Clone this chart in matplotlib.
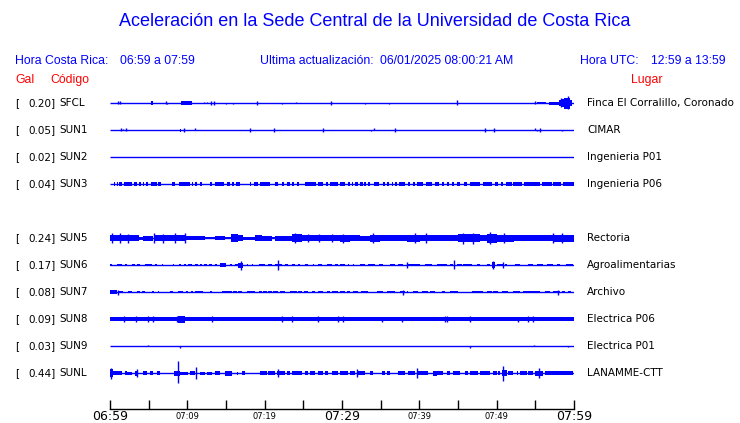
import matplotlib
matplotlib.use("Agg")
import matplotlib.pyplot as plt
from matplotlib.ticker import FixedLocator, FixedFormatter

# ---------------- data ----------------
TITLE = "Aceleración en la Sede Central de la Universidad de Costa Rica"
HORA_CR = "06:59 a 07:59"
ACTUALIZACION = "06/01/2025 08:00:21 AM"
HORA_UTC = "12:59 a 13:59"

# stations in display order (SUN4 has no data -> empty row)
CODES = ["SFCL", "SUN1", "SUN2", "SUN3", "SUN4", "SUN5", "SUN6", "SUN7", "SUN8", "SUN9", "SUNL"]
GAL = [0.20, 0.05, 0.02, 0.04, None, 0.24, 0.17, 0.08, 0.09, 0.03, 0.44]
PLACES = ["Finca El Corralillo, Coronado", "CIMAR", "Ingenieria P01", "Ingenieria P06", None,
          "Rectoria", "Agroalimentarias", "Archivo", "Electrica P06", "Electrica P01", "LANAMME-CTT"]

# time axis (minutes after 06:59)
TICK_MAJOR = [0, 30, 60]
TICK_MAJOR_LABELS = ["06:59", "07:29", "07:59"]
TICK_MINOR = [5, 10, 15, 20, 25, 35, 40, 45, 50, 55]
TICK_MINOR_LABELS = ["", "07:09", "", "07:19", "", "", "07:39", "", "07:49", ""]

# envelope segments (t0, t1, half-amplitude) and spikes (t, up, down); amplitude in
# relative units where trace spacing = 27
SEG_SFCL = [(5.35, 5.6, 2.0), (9.2, 10.6, 1.7), (55.2, 56.4, 1.3), (56.8, 58.0, 1.5),
            (58.0, 58.4, 2.7), (58.4, 58.7, 4.3), (58.7, 59.5, 5.5), (59.5, 59.7, 3.0)]
SPK_SFCL = [(1.0, 1.5, 1.5), (1.3, 1.5, 1.5), (7.2, 1.5, 1.0), (7.4, 0, 1.5), (12.1, 1.3, 0),
            (12.6, 1.0, 0), (13.0, 2, 2), (13.4, 2, 2), (15.0, 0, 1.2), (15.9, 0, 1.2),
            (19.0, 2, 2), (22.2, 0, 1.3), (24.0, 1.3, 0), (28.6, 2, 2), (33.0, 0, 1.2),
            (36.1, 0, 1.2), (44.9, 2.5, 2.5), (54.9, 1.5, 1.5), (58.3, 4.5, 4.5), (59.2, 6.5, 6.0)]

SEG_SUN1 = [(9.0, 9.2, 1.5), (44.3, 44.4, 1.5)]
SPK_SUN1 = [(1.4, 1.5, 1.5), (1.7, 1.3, 0), (2.1, 1.5, 1.5), (9.6, 1.8, 1.8), (11.0, 1.5, 0),
            (18.1, 1.8, 1.8), (21.2, 1.8, 1.8), (27.6, 1.8, 1.8), (33.8, 0, 1.3), (34.2, 1.5, 0),
            (36.8, 1.8, 1.8), (48.5, 1.8, 1.8), (49.7, 1.8, 1.8), (54.9, 1.5, 0), (55.2, 0, 1.5),
            (55.6, 1.8, 1.8), (58.4, 0, 1.3)]

SEG_SUN2 = []
SPK_SUN2 = []

SUN3_H = 1.6
SEG_SUN3 = [(t0, t1, SUN3_H) for t0, t1 in [
    (0.2, 0.3), (0.5, 0.6), (0.9, 1.0), (1.2, 1.5), (1.85, 2.8), (3.15, 3.45), (3.75, 4.0),
    (4.27, 4.44), (4.61, 4.96), (5.26, 6.03), (6.25, 6.59), (6.81, 6.9), (7.97, 8.4),
    (8.92, 10.39), (10.56, 10.78), (10.99, 11.21), (11.64, 11.85), (12.54, 12.6), (12.93, 13.15),
    (13.58, 14.79), (15.17, 15.52), (15.73, 16.08), (16.34, 16.81), (18.15, 18.2), (18.66, 19.18),
    (19.4, 20.69), (21.34, 21.77), (22.28, 22.54), (22.84, 23.27), (23.49, 23.84), (24.14, 24.48),
    (24.78, 24.85), (25.21, 26.59), (26.94, 27.59), (27.89, 28.15), (28.45, 29.53), (29.75, 30.39),
    (30.82, 31.0), (31.3, 31.47), (31.68, 32.11), (32.33, 32.67), (32.84, 33.1), (33.4, 33.62),
    (34.18, 34.83), (35.34, 35.56), (35.77, 36.12), (36.42, 36.64), (36.85, 37.07), (37.41, 38.15),
    (38.58, 38.79), (39.14, 39.44), (39.65, 40.52), (40.86, 41.59), (42.02, 42.54), (42.89, 43.19),
    (43.53, 43.83), (44.18, 44.48), (44.83, 45.26), (45.77, 46.12), (46.55, 47.84), (48.27, 49.35),
    (49.78, 50.21), (50.52, 50.86), (51.16, 51.94), (52.15, 53.23), (53.58, 55.6), (55.82, 57.11),
    (57.33, 58.27), (58.53, 60.0)]]
SPK_SUN3 = []

SEG_SUN4 = []
SPK_SUN4 = []

SEG_SUN5 = [(0.0, 3.7, 3.3), (3.7, 4.3, 1.5), (4.3, 5.6, 2.5), (5.8, 9.7, 3.0), (9.7, 11.2, 2.0),
            (11.2, 12.3, 1.8), (12.3, 13.6, 1.2), (13.6, 14.9, 1.8), (14.9, 15.7, 1.3),
            (15.7, 16.6, 4.0), (16.6, 17.2, 3.0), (17.2, 18.7, 1.5), (18.7, 19.6, 3.0),
            (19.6, 20.9, 2.5), (20.9, 21.3, 1.3), (21.3, 23.5, 2.5), (23.5, 24.8, 4.0),
            (24.8, 29.7, 3.0), (29.7, 31.0, 3.5), (31.0, 32.3, 3.0), (32.3, 33.6, 2.5),
            (33.6, 34.9, 3.5), (34.9, 38.4, 2.7), (38.4, 40.1, 3.5), (40.1, 41.8, 3.0),
            (41.8, 45.0, 2.6), (45.0, 47.8, 4.0), (47.8, 48.7, 3.0), (48.7, 50.0, 4.5),
            (50.0, 52.2, 3.5), (52.2, 57.3, 2.7), (57.3, 60.0, 3.5)]
SPK_SUN5 = [(0.22, 5, 5), (1.29, 5, 5), (2.37, 4.5, 4.5), (5.73, 5.3, 5.3), (6.9, 4.5, 4.5),
            (8.41, 5, 5), (9.7, 5, 5), (23.9, 5, 5), (25.6, 4, 4), (27.0, 4, 4), (28.7, 4, 4),
            (30.1, 4.5, 4.5), (34.05, 5, 5), (39.4, 5, 5), (40.9, 5, 5), (45.7, 5.5, 5.5),
            (46.9, 5.5, 5.5), (49.2, 6.5, 6.0), (50.9, 5, 5), (57.3, 5, 5), (58.5, 5, 5)]

SUN6_H = 1.4
SEG_SUN6 = [(t0, t1, SUN6_H) for t0, t1 in [
    (0.0, 0.22), (0.86, 1.51), (1.94, 2.16), (2.8, 3.23), (3.45, 3.88), (4.53, 5.39), (5.82, 6.04),
    (6.68, 6.9), (8.19, 8.25), (8.92, 9.18), (9.57, 9.79), (10.13, 10.65), (10.99, 11.34),
    (11.64, 11.85), (12.16, 12.5), (12.85, 13.15), (13.58, 13.8), (15.52, 15.73), (16.17, 16.6),
    (17.67, 17.89), (18.32, 18.54), (19.27, 20.05), (20.48, 20.91), (21.34, 22.2), (22.63, 23.06),
    (23.58, 23.93), (24.27, 24.57), (25.22, 25.65), (26.3, 26.35), (26.94, 27.37), (28.02, 28.67),
    (29.1, 29.53), (29.74, 30.39), (30.82, 30.9), (31.46, 31.5), (32.33, 32.97), (33.4, 34.27),
    (34.83, 35.34), (36.21, 36.85), (37.28, 37.93), (38.36, 40.09), (40.73, 41.6), (42.24, 43.54),
    (43.97, 44.4), (44.83, 45.48), (45.69, 46.77), (47.41, 47.85), (48.71, 49.14), (50.0, 50.86),
    (51.08, 51.3), (52.37, 53.02), (54.1, 54.74), (55.17, 56.04), (56.47, 57.33), (57.76, 58.19),
    (58.97, 59.92)]] + [(14.23, 14.96, 2.0), (16.6, 17.24, 2.5), (49.35, 49.79, 3.0)]
SPK_SUN6 = [(16.94, 4.5, 4.5), (21.77, 5.5, 4.5), (38.36, 3, 3), (44.53, 4.7, 4.0),
            (49.5, 4, 4), (50.86, 3, 3)]

SUN7_H = 1.4
SEG_SUN7 = [(t0, t1, SUN7_H) for t0, t1 in [
    (1.08, 1.72), (2.37, 2.89), (3.45, 3.88), (4.18, 4.53), (5.39, 5.73), (6.25, 6.3), (7.76, 8.19),
    (8.75, 9.48), (9.79, 10.13), (10.48, 10.78), (10.99, 12.07), (12.93, 13.15), (14.44, 15.73),
    (15.95, 16.38), (16.6, 17.03), (17.67, 18.75), (19.27, 19.61), (19.83, 20.26), (20.48, 20.91),
    (21.12, 21.68), (21.99, 22.63), (23.28, 24.14), (24.36, 24.79), (25.13, 25.56), (26.08, 26.51),
    (26.94, 27.59), (28.02, 28.45), (28.67, 29.53), (29.74, 30.39), (30.6, 31.03), (31.46, 32.11),
    (32.41, 33.4), (34.48, 35.34), (35.78, 36.85), (37.5, 38.15), (38.36, 38.58), (39.14, 39.87),
    (40.3, 41.16), (41.38, 42.03), (42.89, 43.32), (43.97, 45.04), (45.48, 45.52), (45.91, 45.95),
    (46.77, 48.28), (48.71, 49.35), (49.57, 50.22), (50.73, 51.51), (52.16, 53.02), (53.45, 55.61),
    (56.25, 56.9), (57.33, 58.19), (58.41, 58.84), (59.27, 59.57)]] + [(0.0, 0.86, 2.0)]
SPK_SUN7 = [(0.99, 2.5, 2.5), (37.93, 2.5, 2.5), (57.98, 2.5, 2.5)]

SEG_SUN8 = [(0.0, 19.0, 1.8), (19.0, 60.0, 1.6), (8.75, 9.7, 3.5)]
SPK_SUN8 = [(1.85, 2.8, 2.8), (3.32, 2.8, 2.8), (4.96, 2.8, 2.8), (5.6, 2.8, 2.8), (8.62, 2.8, 2.8),
            (13.15, 2.8, 2.8), (22.29, 2.8, 2.8), (23.49, 2.8, 2.8), (26.94, 2.8, 2.8),
            (29.53, 2.8, 2.8), (30.18, 2.8, 2.8), (35.13, 2.5, 2.5), (37.72, 2.5, 2.5),
            (43.32, 2.8, 2.8), (43.62, 2.8, 2.8), (46.55, 3.2, 3.2), (52.8, 2.5, 2.5),
            (54.1, 2.8, 2.8), (54.74, 2.8, 2.8)]

SEG_SUN9 = []
SPK_SUN9 = [(4.96, 1.5, 0), (9.05, 0, 1.5), (46.55, 0, 2.0), (54.87, 1.2, 0), (59.18, 0, 1.0)]

SEG_SUNL = [(0.0, 0.43, 4.0), (0.43, 1.51, 2.0), (1.94, 2.16, 2.0), (2.16, 2.8, 1.5),
            (3.23, 3.66, 2.5), (4.31, 4.74, 2.0), (5.17, 5.6, 1.8), (6.04, 6.47, 1.8),
            (8.28, 9.05, 2.5), (9.05, 10.13, 1.5), (10.35, 11.0, 2.0), (11.64, 12.29, 1.5),
            (12.5, 13.15, 1.5), (13.58, 14.23, 1.8), (14.87, 15.73, 2.5), (16.38, 16.5, 1.5),
            (17.03, 17.46, 1.8), (18.32, 18.4, 1.5), (19.4, 20.26, 1.8), (20.48, 21.34, 1.8),
            (21.55, 22.63, 2.0), (22.85, 23.28, 1.8), (23.49, 24.79, 1.8), (25.22, 25.65, 1.8),
            (25.87, 26.51, 1.8), (26.94, 27.59, 1.8), (27.81, 28.24, 1.8), (28.67, 29.53, 1.8),
            (29.74, 30.82, 1.8), (31.03, 31.68, 1.8), (32.11, 32.97, 1.8), (33.62, 34.05, 1.8),
            (35.13, 35.56, 1.8), (35.78, 36.21, 1.8), (37.28, 38.15, 1.8), (38.58, 39.44, 1.8),
            (39.66, 41.16, 2.0), (41.81, 42.24, 2.5), (42.24, 43.1, 1.8), (43.54, 43.97, 1.8),
            (44.4, 45.26, 1.8), (45.48, 45.52, 1.5), (45.91, 46.34, 1.8), (46.55, 47.63, 1.8),
            (47.85, 49.14, 1.8), (49.57, 50.0, 1.8), (50.22, 50.43, 1.8), (50.65, 51.3, 3.0),
            (51.51, 52.16, 1.8), (52.59, 52.8, 1.8), (53.02, 53.88, 1.8), (54.1, 54.74, 1.8),
            (54.96, 56.04, 2.5), (56.25, 59.92, 2.0)]
SPK_SUNL = [(0.1, 5.0, 5.5), (3.53, 4, 4), (8.84, 11.7, 10.0), (11.12, 6, 6), (21.77, 4, 4),
            (31.98, 4, 4), (39.74, 5, 5), (50.86, 7.3, 7.7), (55.52, 5, 5)]

SEGMENTS = [SEG_SFCL, SEG_SUN1, SEG_SUN2, SEG_SUN3, SEG_SUN4, SEG_SUN5,
            SEG_SUN6, SEG_SUN7, SEG_SUN8, SEG_SUN9, SEG_SUNL]
SPIKES = [SPK_SFCL, SPK_SUN1, SPK_SUN2, SPK_SUN3, SPK_SUN4, SPK_SUN5,
          SPK_SUN6, SPK_SUN7, SPK_SUN8, SPK_SUN9, SPK_SUNL]

# ---------------- drawing ----------------
W, H = 740, 423
BLUE = "#0000ff"
RED = "#ff0000"
fig = plt.figure(figsize=(W / 100, H / 100), dpi=100)

# axes: x from px 110 to 574, y in pixel rows 90..409
ax = fig.add_axes([110 / W, (H - 409) / H, 464 / W, (409 - 90) / H])
ax.set_xlim(0, 60)
ax.set_ylim(409, 90)
ROW0, ROW_STEP = 103, 27

for i, code in enumerate(CODES):
    if GAL[i] is None:
        continue
    y0 = ROW0 + ROW_STEP * i
    ax.plot([0, 60], [y0, y0], color=BLUE, lw=1.0, solid_capstyle="butt")
    for t0, t1, h in SEGMENTS[i]:
        ax.fill_between([t0, t1], [y0 - h, y0 - h], [y0 + h, y0 + h], color=BLUE, lw=0)
    for t, up, dn in SPIKES[i]:
        ax.vlines(t, y0 - up, y0 + dn, color=BLUE, lw=1.0)

for s in ["top", "left", "right"]:
    ax.spines[s].set_visible(False)
ax.spines["bottom"].set_linewidth(1.0)
ax.set_yticks([])
ax.xaxis.set_major_locator(FixedLocator(TICK_MAJOR))
ax.xaxis.set_major_formatter(FixedFormatter(TICK_MAJOR_LABELS))
ax.xaxis.set_minor_locator(FixedLocator(TICK_MINOR))
ax.xaxis.set_minor_formatter(FixedFormatter(TICK_MINOR_LABELS))
ax.tick_params(axis="x", which="major", direction="in", length=6.5, width=1.0,
               labelsize=9, pad=0.8, colors="black")
ax.tick_params(axis="x", which="minor", direction="in", length=6.5, width=1.0,
               labelsize=6, pad=2.0, colors="black")
ax.patch.set_alpha(0)


def ftext(x, y, s, **kw):
    fig.text(x / W, 1 - y / H, s, va="center", **kw)


ftext(375, 22, TITLE, ha="center", color=BLUE, fontsize=13, family="Liberation Sans")
hk = dict(color=BLUE, fontsize=8.8, family="Liberation Sans")
ftext(15, 61, "Hora Costa Rica:", **hk)
ftext(120, 61, HORA_CR, **hk)
ftext(260, 61, "Ultima actualización:", **hk)
ftext(380, 61, ACTUALIZACION, **hk)
ftext(580, 61, "Hora UTC:", **hk)
ftext(651, 61, HORA_UTC, **hk)
rk = dict(color=RED, fontsize=8.8, family="Liberation Sans")
ftext(15, 80, "Gal", **rk)
ftext(50, 80, "Código", **rk)
ftext(631, 80, "Lugar", **rk)

lk = dict(color="black", fontsize=7.5, family="DejaVu Sans")
for i, code in enumerate(CODES):
    if GAL[i] is None:
        continue
    y0 = ROW0 + ROW_STEP * i
    ftext(15, y0, "[", **lk)
    ftext(28, y0, f"{GAL[i]:.2f}]", **lk)
    ftext(59, y0, code, **lk)
    ftext(587, y0, PLACES[i], **lk)

fig.savefig("out.png", dpi=100)
